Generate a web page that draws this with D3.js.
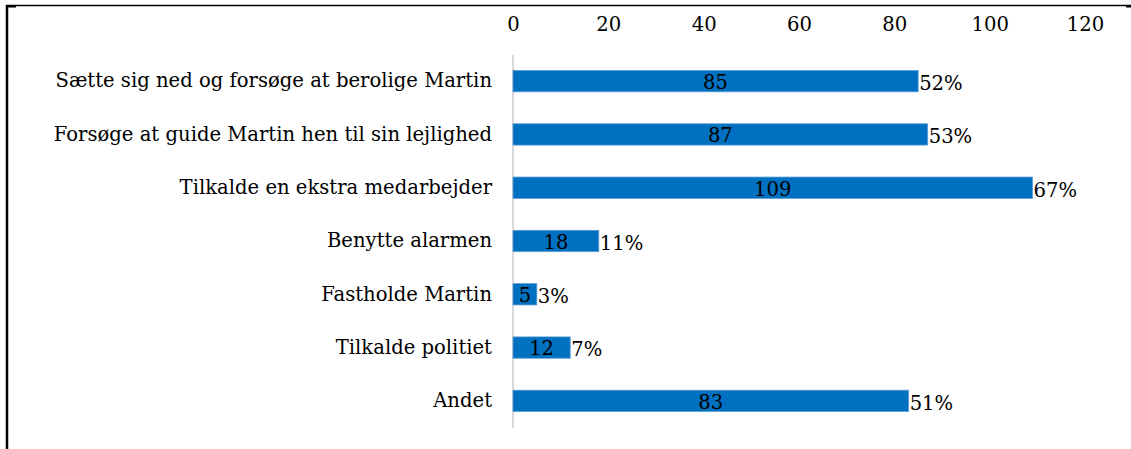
<!DOCTYPE html>
<html>
<head>
<meta charset="utf-8">
<script src="https://cdn.jsdelivr.net/npm/d3@7"></script>
<style>
  body { margin: 0; background: #fff; }
  text { font-family: "DejaVu Serif", serif; fill: #000; }
</style>
</head>
<body>
<script>
const categories = [
  'Sætte sig ned og forsøge at berolige Martin',
  'Forsøge at guide Martin hen til sin lejlighed',
  'Tilkalde en ekstra medarbejder',
  'Benytte alarmen',
  'Fastholde Martin',
  'Tilkalde politiet',
  'Andet'
];
const counts = [85, 87, 109, 18, 5, 12, 83];
const percents = ['52%', '53%', '67%', '11%', '3%', '7%', '51%'];
const ticks = [0, 20, 40, 60, 80, 100, 120];

const W = 1131, H = 449;
const FONT = '"DejaVu Serif", serif';
const FS = 19.6;

const svg = d3.select('body').append('svg')
  .attr('width', W)
  .attr('height', H);

// frame (cropped document border)
svg.append('line')
  .attr('x1', 6).attr('x2', 1131).attr('y1', 5.5).attr('y2', 5.5)
  .attr('stroke', '#000').attr('stroke-width', 1.5);
svg.append('line')
  .attr('x1', 7).attr('x2', 7).attr('y1', 5).attr('y2', H)
  .attr('stroke', '#000').attr('stroke-width', 2.5);
svg.append('rect').attr('x', 6).attr('y', 5).attr('width', 10).attr('height', 2.5).attr('fill', '#000');
svg.append('rect').attr('x', 1126).attr('y', 5).attr('width', 5).attr('height', 2.5).attr('fill', '#000');

const x = d3.scaleLinear()
  .domain([0, 120])
  .range([513, 1085]);

const y = d3.scaleBand()
  .domain(categories)
  .range([54.5, 427.5])
  .paddingInner(0.6)
  .paddingOuter(0.3);

// tick labels on top
const xAxis = d3.axisTop(x)
  .tickValues(ticks)
  .tickSize(0)
  .tickPadding(0);

svg.append('g')
  .attr('transform', 'translate(0,31)')
  .call(xAxis)
  .call(g => g.select('.domain').remove())
  .call(g => g.selectAll('text')
    .attr('font-size', FS)
    .attr('font-family', FONT)
    .attr('fill', '#000'));

// vertical axis line
svg.append('line')
  .attr('x1', x(0)).attr('x2', x(0))
  .attr('y1', 55).attr('y2', 428)
  .attr('stroke', '#d9d9d9').attr('stroke-width', 2);

// category labels
const yAxis = d3.axisLeft(y).tickSize(0).tickPadding(21);
svg.append('g')
  .attr('transform', `translate(${x(0)},0)`)
  .call(yAxis)
  .call(g => g.select('.domain').remove())
  .call(g => g.selectAll('text')
    .attr('font-size', FS)
    .attr('font-family', FONT)
    .attr('fill', '#000'));

const rows = categories.map((c, i) => ({ cat: c, n: counts[i], pct: percents[i] }));

const bar = svg.append('g').selectAll('g')
  .data(rows)
  .join('g');

bar.append('rect')
  .attr('x', x(0))
  .attr('y', d => y(d.cat))
  .attr('width', d => x(d.n) - x(0))
  .attr('height', y.bandwidth())
  .attr('fill', '#0070c0')
  .attr('stroke', '#5b9bd5')
  .attr('stroke-width', 0.8);

bar.append('text')
  .attr('x', d => (x(0) + x(d.n)) / 2)
  .attr('y', d => y(d.cat) + y.bandwidth() / 2)
  .attr('dy', '0.4em')
  .attr('text-anchor', 'middle')
  .attr('font-size', FS)
  .text(d => d.n);

bar.append('text')
  .attr('x', d => x(d.n) + 1)
  .attr('y', d => y(d.cat) + y.bandwidth() / 2)
  .attr('dy', '0.45em')
  .attr('font-size', FS)
  .text(d => d.pct);
</script>
</body>
</html>
